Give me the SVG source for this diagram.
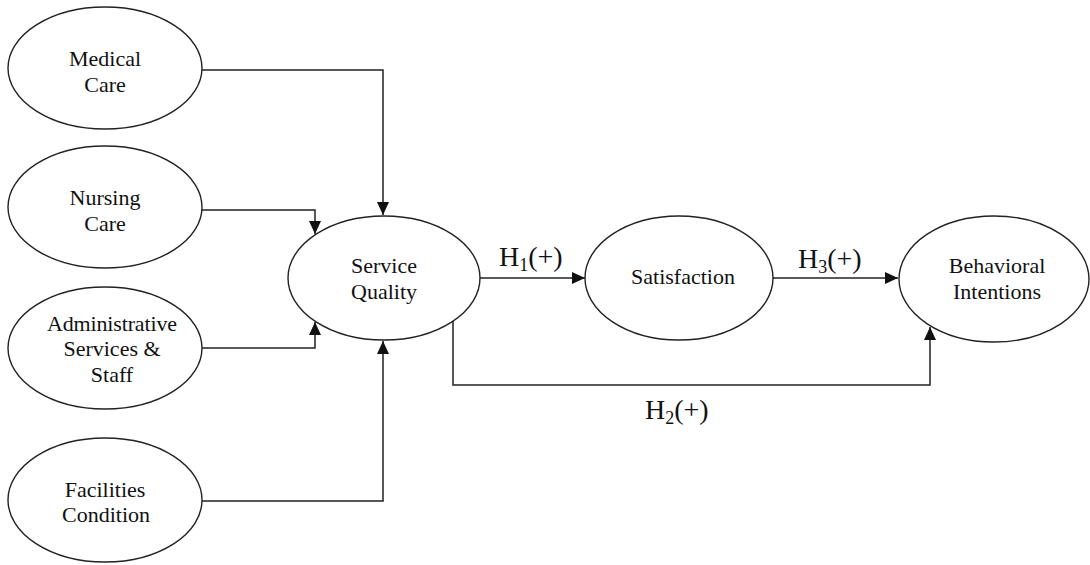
<svg xmlns="http://www.w3.org/2000/svg" width="1090" height="565" viewBox="0 0 1090 565">
<style>
.node{fill:#fff;stroke:#222;stroke-width:1.4}
.t{font-family:"Liberation Serif","Times New Roman",serif;font-size:22px;fill:#111;text-anchor:middle}
.h{font-family:"Liberation Serif","Times New Roman",serif;font-size:28px;fill:#111}
.sub{font-size:18px}
.c{fill:none;stroke:#222;stroke-width:1.5;marker-end:url(#arr)}
</style>
<defs>
<marker id="arr" markerUnits="userSpaceOnUse" markerWidth="13" markerHeight="12" refX="13" refY="6" orient="auto">
<path d="M0,0 L13,6 L0,12 z" fill="#111"/>
</marker>
</defs>
<rect width="1090" height="565" fill="#fff"/>
<g id="connectors">
<path class="c" d="M202,70 H383 V215"/>
<path class="c" d="M202,210 H315 V234"/>
<path class="c" d="M202,348 H315 V322"/>
<path class="c" d="M202,501 H383 V341"/>
<path class="c" d="M480,278 H585"/>
<path class="c" d="M773,278 H898"/>
<path class="c" d="M453,321 V385 H930 V327"/>
<text class="h" x="499" y="266">H<tspan class="sub" dy="5">1</tspan><tspan dy="-5">(+)</tspan></text>
<text class="h" x="798" y="268">H<tspan class="sub" dy="5">3</tspan><tspan dy="-5">(+)</tspan></text>
<text class="h" x="645" y="419">H<tspan class="sub" dy="5">2</tspan><tspan dy="-5">(+)</tspan></text>
</g>
<g id="medical-care">
<ellipse class="node" cx="105" cy="68" rx="97" ry="61"/>
<text class="t" x="105" y="66">Medical</text>
<text class="t" x="105" y="92">Care</text>
</g>
<g id="nursing-care">
<ellipse class="node" cx="105" cy="207" rx="97" ry="61"/>
<text class="t" x="105" y="205">Nursing</text>
<text class="t" x="105" y="231">Care</text>
</g>
<g id="administrative-services">
<ellipse class="node" cx="105" cy="348" rx="97" ry="61"/>
<text class="t" x="112" y="331" textLength="130" lengthAdjust="spacing">Administrative</text>
<text class="t" x="112" y="356">Services &amp;</text>
<text class="t" x="112" y="382">Staff</text>
</g>
<g id="facilities-condition">
<ellipse class="node" cx="105" cy="500" rx="97" ry="62"/>
<text class="t" x="105" y="497">Facilities</text>
<text class="t" x="106" y="522">Condition</text>
</g>
<g id="service-quality">
<ellipse class="node" cx="384" cy="278" rx="96" ry="62"/>
<text class="t" x="384" y="273">Service</text>
<text class="t" x="384" y="299">Quality</text>
</g>
<g id="satisfaction">
<ellipse class="node" cx="679" cy="278" rx="94" ry="62"/>
<text class="t" x="683" y="284">Satisfaction</text>
</g>
<g id="behavioral-intentions">
<ellipse class="node" cx="994" cy="279" rx="95" ry="63"/>
<text class="t" x="997" y="273">Behavioral</text>
<text class="t" x="997" y="299">Intentions</text>
</g>
</svg>
